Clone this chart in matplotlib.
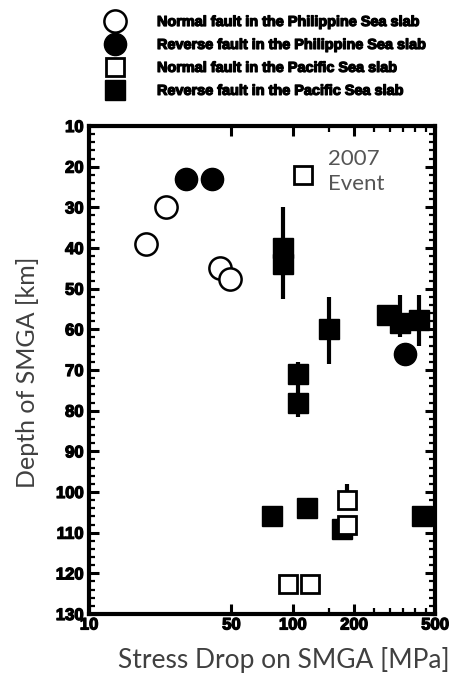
import matplotlib.pyplot as plt
import matplotlib.patheffects as pe
from matplotlib.ticker import FixedLocator, NullFormatter

# stress drop [MPa] and depth [km] of each SMGA
phil_normal_x = [19, 24, 44, 49]
phil_normal_y = [39, 30, 45, 47.5]

phil_reverse_x = [30, 40, 356]
phil_reverse_y = [23, 23, 66]

pac_normal_x = [113, 185, 185, 95, 122]
pac_normal_y = [22, 102, 108, 122.5, 122.5]

pac_reverse_x = [90, 90, 150, 106, 106, 292, 336, 415, 79, 117, 175, 430]
pac_reverse_y = [40, 44, 60, 71, 78, 56.5, 58.5, 57.8, 106, 104, 109, 106]

# depth ranges drawn as vertical bars
range_x = [90, 150, 106, 336, 415, 185]
range_top = [30, 52, 68, 51.6, 51.6, 98]
range_bottom = [52.5, 68.5, 81.5, 62, 64, 102]

legend_labels = [
    "Normal fault in the Philippine Sea slab",
    "Reverse fault in the Philippine Sea slab",
    "Normal fault in the Pacific Sea slab",
    "Reverse fault in the Pacific Sea slab",
]

bold_font = ['Liberation Sans', 'DejaVu Sans']
label_font = ['Lato', 'DejaVu Sans']
heavy = [pe.withStroke(linewidth=0.9, foreground='black')]

fig = plt.figure(figsize=(4.56, 6.75), dpi=100)
ax = fig.add_axes([89 / 456, 1 - 614 / 675, 346 / 456, 488 / 675])

ax.vlines(range_x, range_top, range_bottom, colors='black', linewidth=3, zorder=2)

h4, = ax.plot(pac_reverse_x, pac_reverse_y, 's', ms=14, mfc='black', mec='black', zorder=3)
h2, = ax.plot(phil_reverse_x, phil_reverse_y, 'o', ms=16, mfc='black', mec='black', zorder=3)
h3, = ax.plot(pac_normal_x, pac_normal_y, 's', ms=13, mfc='white', mec='black', mew=2, zorder=4)
h1, = ax.plot(phil_normal_x, phil_normal_y, 'o', ms=16, mfc='white', mec='black', mew=1.8, zorder=4)

ax.text(149, 15.6, "2007\nEvent", fontsize=16, color='#555555', family=label_font,
        va='top', ha='left', linespacing=1.3)

ax.set_xscale('log')
ax.set_xlim(10, 500)
ax.set_ylim(130, 10)

ax.xaxis.set_major_locator(FixedLocator([10, 50, 100, 200, 500]))
ax.xaxis.set_minor_locator(FixedLocator([150, 250, 300, 350, 400, 450]))
ax.xaxis.set_minor_formatter(NullFormatter())
ax.set_xticklabels(['10', '50', '100', '200', '500'])
ax.yaxis.set_major_locator(FixedLocator(list(range(10, 131, 10))))
ax.yaxis.set_minor_locator(FixedLocator(list(range(10, 131, 2))))

ax.tick_params(which='both', direction='in', top=True, right=True, colors='black')
ax.tick_params(which='major', length=7, width=2.2)
ax.tick_params(which='minor', length=4, width=1.6)
ax.tick_params(axis='x', which='major', pad=2.5)
ax.tick_params(axis='y', which='major', pad=4)
for lab in ax.get_xticklabels() + ax.get_yticklabels():
    lab.set_family(bold_font)
    lab.set_fontweight('bold')
    lab.set_fontsize(12)
    lab.set_path_effects(heavy)

for sp in ax.spines.values():
    sp.set_linewidth(3)

fig.text(28 / 456, 1 - 372 / 675, "Depth of SMGA [km]", rotation=90, fontsize=18,
         color='#404040', family=label_font, ha='center', va='center')
fig.text(284 / 456, 1 - 660 / 675, "Stress Drop on SMGA [MPa]", fontsize=19,
         color='#404040', family=label_font, ha='center', va='center')

leg = fig.legend([h1, h2, h3, h4], legend_labels, loc='upper left',
                 bbox_to_anchor=(105 / 456, 1 - 15 / 675), frameon=False, numpoints=1,
                 borderpad=0, borderaxespad=0, handlelength=1.4, handletextpad=2.2,
                 labelspacing=0.62, prop={'family': bold_font, 'weight': 'bold', 'size': 10.4})
for t in leg.get_texts():
    t.set_path_effects(heavy)

fig.savefig('out.png', dpi=100)
